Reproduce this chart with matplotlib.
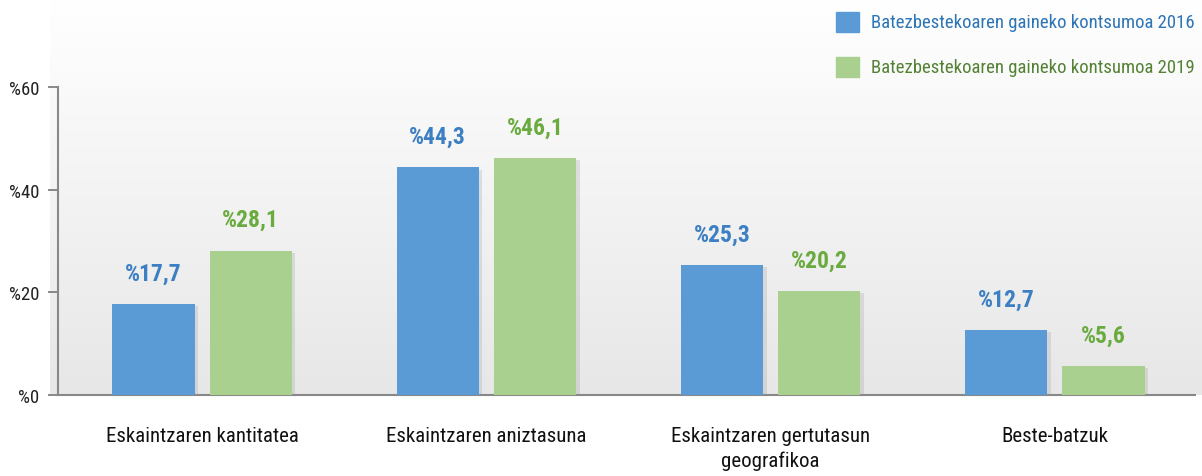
import matplotlib
matplotlib.use("Agg")
import matplotlib.pyplot as plt
import matplotlib.patheffects as pe
import numpy as np
from matplotlib import font_manager
from matplotlib.colors import LinearSegmentedColormap

categories = ["Eskaintzaren kantitatea", "Eskaintzaren aniztasuna",
              "Eskaintzaren gertutasun\ngeografikoa", "Beste-batzuk"]
series_names = ["Batezbestekoaren gaineko kontsumoa 2016",
                "Batezbestekoaren gaineko kontsumoa 2019"]
values_2016 = [17.7, 44.3, 25.3, 12.7]
values_2019 = [28.1, 46.1, 20.2, 5.6]
yticks = [0, 20, 40, 60]
ytick_labels = ["%0", "%20", "%40", "%60"]

names = {f.name for f in font_manager.fontManager.ttflist}
fam = [f for f in ["Liberation Sans Narrow", "Roboto Condensed", "Open Sans Condensed", "Roboto"] if f in names]
fam = fam + ["DejaVu Sans"]
plt.rcParams['font.family'] = fam

bar_blue = "#5b9bd5"
bar_green = "#a9d08e"
txt_blue = "#3c7fc2"
txt_green = "#6aab3f"
leg_blue = "#2e75b6"
leg_green = "#548235"

W, H = 1202, 477
fig = plt.figure(figsize=(W / 100, H / 100), dpi=100)

# background gradient
bg = fig.add_axes([50 / W, (H - 396) / H, (W - 50) / W, 396 / H], zorder=0)
grad = np.linspace(0, 1, 256).reshape(-1, 1)
cmap = LinearSegmentedColormap.from_list("g", ["#ffffff", "#e7e7e7"])
bg.imshow(grad, aspect="auto", cmap=cmap, extent=[0, 1, 0, 1], origin="upper")
bg.axis("off")

ax = fig.add_axes([58 / W, (H - 396) / H, (1195 - 58) / W, 396 / H], zorder=1)
ax.patch.set_alpha(0)

x = np.arange(len(categories))
bw = 0.289
off = 0.171
shadow = [pe.SimplePatchShadow(offset=(2.5, -1.5), shadow_rgbFace="#9a9a9a", alpha=0.25), pe.Normal()]
ax.bar(x - off, values_2016, bw, color=bar_blue, zorder=3, path_effects=shadow)
ax.bar(x + off, values_2019, bw, color=bar_green, zorder=3, path_effects=shadow)

for xi, v in zip(x, values_2016):
    ax.annotate(f"%{v:.1f}".replace(".", ","), (xi - off, v), xytext=(0, 14),
                textcoords="offset points", ha="center", va="bottom",
                fontsize=17, fontweight="bold", color=txt_blue)
for xi, v in zip(x, values_2019):
    ax.annotate(f"%{v:.1f}".replace(".", ","), (xi + off, v), xytext=(0, 14),
                textcoords="offset points", ha="center", va="bottom",
                fontsize=17, fontweight="bold", color=txt_green)

ax.set_xlim(-0.507, 3.493)
ax.set_ylim(0, 77.1)
ax.set_yticks(yticks)
ax.set_yticklabels(ytick_labels, fontsize=13.5, color="#222222")
ax.set_xticks(x)
ax.set_xticklabels(categories, fontsize=15, color="#111111", linespacing=1.4, va="top")
ax.tick_params(axis="x", length=0, pad=22)
ax.tick_params(axis="y", length=7, width=1.2, color="#777777", pad=6.5)
for s in ["top", "right"]:
    ax.spines[s].set_visible(False)
ax.spines["left"].set_bounds(0, 60)
ax.spines["left"].set_color("#888888")
ax.spines["left"].set_linewidth(1.5)
ax.spines["bottom"].set_color("#888888")
ax.spines["bottom"].set_linewidth(1.5)

# legend
for i, (name, fc, tc) in enumerate([(series_names[0], bar_blue, leg_blue),
                                     (series_names[1], bar_green, leg_green)]):
    yc = 1 - (23 + 45 * i) / H
    fig.patches.append(plt.Rectangle((836 / W, yc - 10 / H), 23 / W, 20 / H,
                                     transform=fig.transFigure, color=fc, zorder=5))
    fig.text(871 / W, yc, name, fontsize=13.5, color=tc, va="center", ha="left", zorder=5)

fig.savefig("out.png", dpi=100)
